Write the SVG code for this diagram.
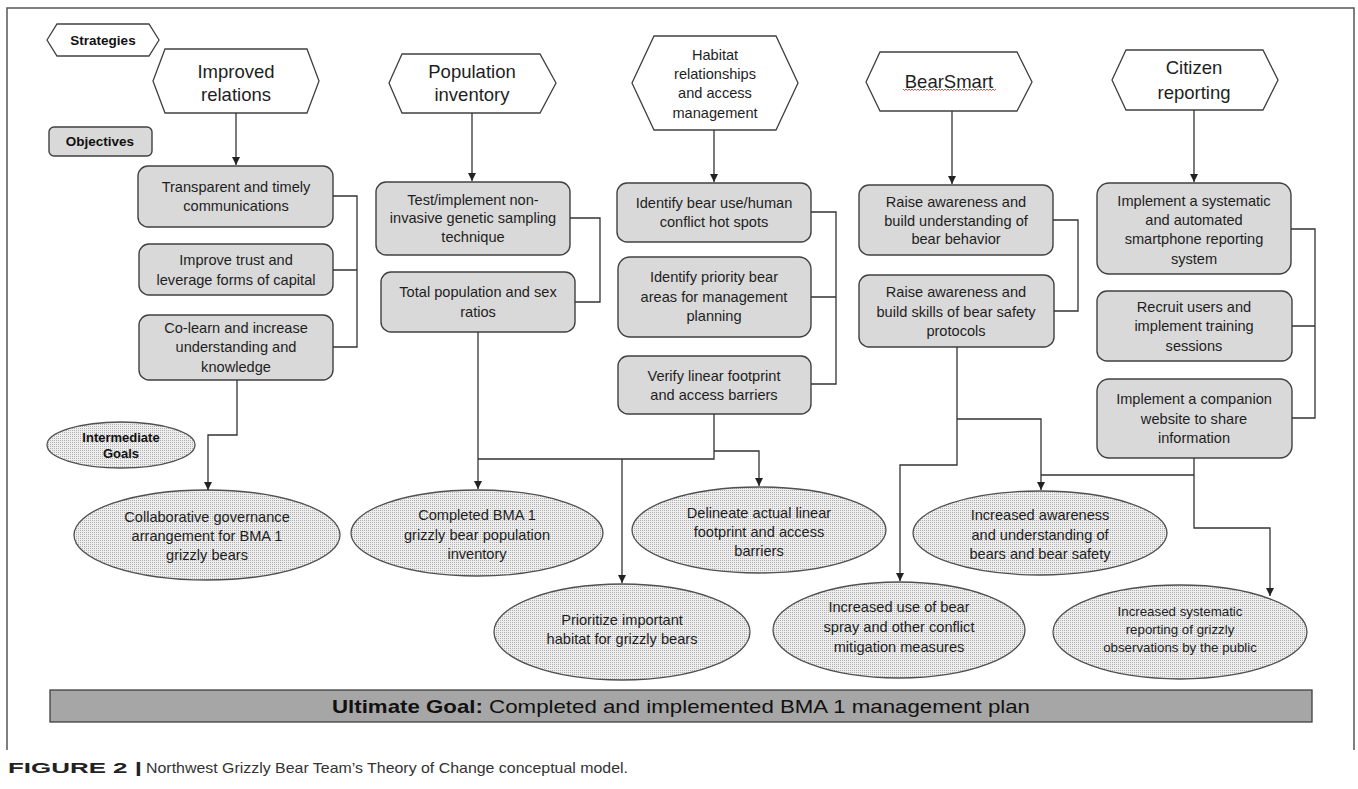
<svg xmlns="http://www.w3.org/2000/svg" width="1358" height="789" viewBox="0 0 1358 789">
<defs>
<pattern id="dots" width="2" height="2" patternUnits="userSpaceOnUse">
<rect width="2" height="2" fill="#eeeeee"/>
<rect width="1" height="1" fill="#b0b0b0"/>
</pattern>
<marker id="arr" markerUnits="userSpaceOnUse" markerWidth="9" markerHeight="9" refX="8" refY="4" orient="auto">
<path d="M0,0 L8,4 L0,8 z" fill="#222"/>
</marker>
<style>
.hex{fill:#fff;stroke:#404040;stroke-width:1.3}
.box{fill:#d9d9d9;stroke:#404040;stroke-width:1.4}
.ell{fill:url(#dots);stroke:#505050;stroke-width:1.3}
.t{font-family:"Liberation Sans",Arial,sans-serif;font-size:14.6px;fill:#1e1e1e;text-anchor:middle}
.hx{font-family:"Liberation Sans",Arial,sans-serif;font-size:18.5px;fill:#1e1e1e;text-anchor:middle}
.b{font-family:"Liberation Sans",Arial,sans-serif;font-size:13.5px;font-weight:bold;fill:#111;text-anchor:middle}
.sm{font-size:13.3px}
.c{fill:none;stroke:#333;stroke-width:1.3}
.ca{fill:none;stroke:#333;stroke-width:1.3;marker-end:url(#arr)}
</style>
</defs>
<rect width="1358" height="789" fill="#fff"/>
<path d="M7,750 V8 H1354 V750" fill="none" stroke="#555" stroke-width="1.5"/>

<g id="legend-strategies">
<polygon class="hex" points="47,40 57,24 149,24 159,40 149,56 57,56"/>
<text class="b" x="103" y="45">Strategies</text>
</g>
<g id="legend-objectives">
<rect class="box" x="49" y="127" width="103" height="29" rx="5"/>
<text class="b" x="100" y="146">Objectives</text>
</g>
<g id="legend-intermediate">
<ellipse class="ell" cx="121" cy="445" rx="74" ry="23"/>
<text class="b" x="121" y="442" style="font-size:13px">Intermediate</text>
<text class="b" x="121" y="458" style="font-size:13px">Goals</text>
</g>

<g id="s-improved">
<polygon class="hex" points="153,81 165,49 307,49 319,81 307,113 165,113"/>
<text class="hx" x="236" y="78">Improved</text>
<text class="hx" x="236" y="101">relations</text>
</g>
<g id="s-population">
<polygon class="hex" points="389,83 402,54 540,54 556,83 540,113 402,113"/>
<text class="hx" x="472" y="78">Population</text>
<text class="hx" x="472" y="101">inventory</text>
</g>
<g id="s-habitat">
<polygon class="hex" points="632,83 654,36 776,36 798,83 776,130 654,130"/>
<text class="t" x="715" y="60">Habitat</text>
<text class="t" x="715" y="79">relationships</text>
<text class="t" x="715" y="98">and access</text>
<text class="t" x="715" y="118">management</text>
</g>
<g id="s-bearsmart">
<polygon class="hex" points="866,82 880,52 1017,52 1032,82 1017,111 880,111"/>
<text class="hx" x="949" y="88">BearSmart</text>
<path d="M903,89 l1.5,1.5 1.5,-1.5 1.5,1.5 1.5,-1.5 1.5,1.5 1.5,-1.5 1.5,1.5 1.5,-1.5 1.5,1.5 1.5,-1.5 1.5,1.5 1.5,-1.5 1.5,1.5 1.5,-1.5 1.5,1.5 1.5,-1.5 1.5,1.5 1.5,-1.5 1.5,1.5 1.5,-1.5 1.5,1.5 1.5,-1.5 1.5,1.5 1.5,-1.5 1.5,1.5 1.5,-1.5 1.5,1.5 1.5,-1.5 1.5,1.5 1.5,-1.5 1.5,1.5 1.5,-1.5 1.5,1.5 1.5,-1.5 1.5,1.5 1.5,-1.5 1.5,1.5 1.5,-1.5 1.5,1.5 1.5,-1.5 1.5,1.5 1.5,-1.5 1.5,1.5 1.5,-1.5 1.5,1.5 1.5,-1.5 1.5,1.5 1.5,-1.5 1.5,1.5 1.5,-1.5 1.5,1.5 1.5,-1.5 1.5,1.5 1.5,-1.5 1.5,1.5 1.5,-1.5 1.5,1.5 1.5,-1.5 1.5,1.5 1.5,-1.5 1.5,1.5 1.5,-1.5" fill="none" stroke="#d04040" stroke-width="0.9"/>
</g>
<g id="s-citizen">
<polygon class="hex" points="1112,80 1126,50 1263,50 1278,80 1263,110 1126,110"/>
<text class="hx" x="1194" y="74">Citizen</text>
<text class="hx" x="1194" y="99">reporting</text>
</g>

<g id="o-transparent">
<rect class="box" x="138" y="166" width="195" height="61" rx="10"/>
<text class="t" x="236" y="192">Transparent and timely</text>
<text class="t" x="236" y="211">communications</text>
</g>
<g id="o-trust">
<rect class="box" x="139" y="244" width="194" height="51" rx="10"/>
<text class="t" x="236" y="265">Improve trust and</text>
<text class="t" x="236" y="285">leverage forms of capital</text>
</g>
<g id="o-colearn">
<rect class="box" x="139" y="315" width="194" height="65" rx="10"/>
<text class="t" x="236" y="333">Co-learn and increase</text>
<text class="t" x="236" y="352">understanding and</text>
<text class="t" x="236" y="372">knowledge</text>
</g>
<g id="o-test">
<rect class="box" x="376" y="182" width="194" height="73" rx="10"/>
<text class="t" x="473" y="205">Test/implement non-</text>
<text class="t" x="473" y="223">invasive genetic sampling</text>
<text class="t" x="473" y="242">technique</text>
</g>
<g id="o-total">
<rect class="box" x="381" y="272" width="194" height="60" rx="10"/>
<text class="t" x="478" y="297">Total population and sex</text>
<text class="t" x="478" y="317">ratios</text>
</g>
<g id="o-hotspots">
<rect class="box" x="617" y="183" width="194" height="59" rx="10"/>
<text class="t" x="714" y="208">Identify bear use/human</text>
<text class="t" x="714" y="227">conflict hot spots</text>
</g>
<g id="o-priority">
<rect class="box" x="618" y="257" width="193" height="80" rx="12"/>
<text class="t" x="714" y="282">Identify priority bear</text>
<text class="t" x="714" y="302">areas for management</text>
<text class="t" x="714" y="321">planning</text>
</g>
<g id="o-verify">
<rect class="box" x="618" y="356" width="193" height="58" rx="10"/>
<text class="t" x="714" y="381">Verify linear footprint</text>
<text class="t" x="714" y="400">and access barriers</text>
</g>
<g id="o-raise1">
<rect class="box" x="859" y="185" width="194" height="70" rx="10"/>
<text class="t" x="956" y="207">Raise awareness and</text>
<text class="t" x="956" y="226">build understanding of</text>
<text class="t" x="956" y="244">bear behavior</text>
</g>
<g id="o-raise2">
<rect class="box" x="859" y="275" width="195" height="72" rx="10"/>
<text class="t" x="956" y="297">Raise awareness and</text>
<text class="t" x="956" y="317">build skills of bear safety</text>
<text class="t" x="956" y="336">protocols</text>
</g>
<g id="o-smartphone">
<rect class="box" x="1097" y="183" width="194" height="91" rx="12"/>
<text class="t" x="1194" y="206">Implement a systematic</text>
<text class="t" x="1194" y="225">and automated</text>
<text class="t" x="1194" y="244">smartphone reporting</text>
<text class="t" x="1194" y="264">system</text>
</g>
<g id="o-recruit">
<rect class="box" x="1097" y="291" width="195" height="70" rx="10"/>
<text class="t" x="1194" y="312">Recruit users and</text>
<text class="t" x="1194" y="331">implement training</text>
<text class="t" x="1194" y="351">sessions</text>
</g>
<g id="o-website">
<rect class="box" x="1097" y="379" width="195" height="79" rx="12"/>
<text class="t" x="1194" y="404">Implement a companion</text>
<text class="t" x="1194" y="424">website to share</text>
<text class="t" x="1194" y="443">information</text>
</g>

<g id="g-collab">
<ellipse class="ell" cx="207" cy="535" rx="133" ry="45"/>
<text class="t" x="207" y="522">Collaborative governance</text>
<text class="t" x="207" y="541">arrangement for BMA 1</text>
<text class="t" x="207" y="560">grizzly bears</text>
</g>
<g id="g-completed">
<ellipse class="ell" cx="477" cy="533" rx="126" ry="43"/>
<text class="t" x="477" y="520">Completed BMA 1</text>
<text class="t" x="477" y="540">grizzly bear population</text>
<text class="t" x="477" y="559">inventory</text>
</g>
<g id="g-delineate">
<ellipse class="ell" cx="759" cy="530" rx="127" ry="43"/>
<text class="t" x="759" y="518">Delineate actual linear</text>
<text class="t" x="759" y="537">footprint and access</text>
<text class="t" x="759" y="556">barriers</text>
</g>
<g id="g-awareness">
<ellipse class="ell" cx="1040" cy="533" rx="127" ry="42"/>
<text class="t" x="1040" y="520">Increased awareness</text>
<text class="t" x="1040" y="540">and understanding of</text>
<text class="t" x="1040" y="559">bears and bear safety</text>
</g>
<g id="g-prioritize">
<ellipse class="ell" cx="622" cy="632" rx="128" ry="48"/>
<text class="t" x="622" y="625">Prioritize important</text>
<text class="t" x="622" y="644">habitat for grizzly bears</text>
</g>
<g id="g-spray">
<ellipse class="ell" cx="899" cy="630" rx="126" ry="48"/>
<text class="t" x="899" y="612">Increased use of bear</text>
<text class="t" x="899" y="632">spray and other conflict</text>
<text class="t" x="899" y="652">mitigation measures</text>
</g>
<g id="g-reporting">
<ellipse class="ell" cx="1180" cy="632" rx="127" ry="47"/>
<text class="t sm" x="1180" y="616">Increased systematic</text>
<text class="t sm" x="1180" y="634">reporting of grizzly</text>
<text class="t sm" x="1180" y="652">observations by the public</text>
</g>

<g id="connectors">
<path class="ca" d="M236,113 V165"/>
<path class="c" d="M333,196 H357 V347 H333 M333,270 H357"/>
<path class="ca" d="M237,380 V435 H208 V490"/>
<path class="ca" d="M472,113 V181"/>
<path class="c" d="M570,218 H600 V302 H575"/>
<path class="ca" d="M478,332 V489"/>
<path class="c" d="M714,414 V459 H478"/>
<path class="ca" d="M714,451 H759 V486"/>
<path class="ca" d="M622,459 V583"/>
<path class="ca" d="M714,130 V182"/>
<path class="c" d="M811,212 H836 V384 H811 M811,297 H836"/>
<path class="ca" d="M952,111 V184"/>
<path class="c" d="M1053,220 H1078 V311 H1054"/>
<path class="ca" d="M957,347 V465 H900 V581"/>
<path class="ca" d="M957,419 H1041 V490"/>
<path class="ca" d="M1194,110 V182"/>
<path class="c" d="M1291,229 H1315 V418 H1292 M1292,326 H1315"/>
<path class="ca" d="M1194,458 V528 H1270 V596"/>
<path class="c" d="M1194,475 H1041"/>
</g>

<g id="ultimate-goal">
<rect x="50" y="690" width="1262" height="32" fill="#a6a6a6" stroke="#404040" stroke-width="1.3"/>
<text x="681" y="713" text-anchor="middle" textLength="698" lengthAdjust="spacingAndGlyphs" style="font-family:'Liberation Sans',Arial,sans-serif;font-size:19px;fill:#111"><tspan font-weight="bold">Ultimate Goal:</tspan> Completed and implemented BMA 1 management plan</text>
</g>

<g id="caption">
<text x="8" y="773" textLength="134" lengthAdjust="spacingAndGlyphs" style="font-family:'Liberation Sans',Arial,sans-serif;font-size:15px;font-weight:bold;fill:#222">FIGURE 2 |</text>
<text x="146" y="773" textLength="482" lengthAdjust="spacingAndGlyphs" style="font-family:'Liberation Sans',Arial,sans-serif;font-size:15px;fill:#333">Northwest Grizzly Bear Team’s Theory of Change conceptual model.</text>
</g>
</svg>
